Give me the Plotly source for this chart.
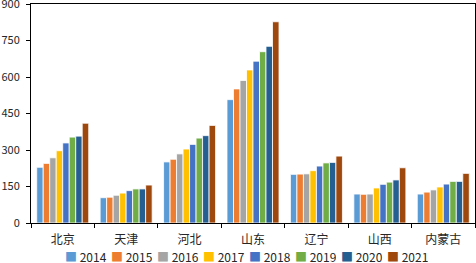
import plotly.graph_objects as go

categories = ["北京", "天津", "河北", "山东", "辽宁", "山西", "内蒙古"]
years = ["2014", "2015", "2016", "2017", "2018", "2019", "2020", "2021"]
colors = ["#5B9BD5", "#ED7D31", "#A5A5A5", "#FFC000", "#4472C4", "#70AD47", "#255E91", "#9E480E"]

v2014 = [229, 104, 251, 507, 200, 119, 119]
v2015 = [245, 106, 262, 551, 201, 118, 127]
v2016 = [268, 114, 284, 586, 202, 119, 136]
v2017 = [297, 123, 304, 629, 215, 144, 148]
v2018 = [329, 133, 323, 665, 234, 159, 160]
v2019 = [353, 140, 349, 704, 247, 168, 171]
v2020 = [357, 140, 359, 726, 249, 177, 171]
v2021 = [410, 156, 401, 827, 275, 227, 204]
series = [v2014, v2015, v2016, v2017, v2018, v2019, v2020, v2021]

yticks = [0, 150, 300, 450, 600, 750, 900]

FONT = "Noto Sans CJK SC"
TXT = "#262626"

fig = go.Figure()
for name, vals, col in zip(years, series, colors):
    fig.add_trace(go.Bar(
        x=categories, y=vals, name=name,
        marker=dict(color=col, line=dict(color="white", width=0.8)),
        showlegend=False,
    ))

# legend drawn as annotations
L, R, T, B = 31, 475, 4, 223
for i, (name, col) in enumerate(zip(years, colors)):
    px = 63 + 46 * i
    fig.add_annotation(
        x=(px - L) / (R - L), y=-(256 - B) / (B - T), xref="paper", yref="paper",
        xanchor="left", yanchor="middle", showarrow=False, height=14,
        text=f"<span style='color:{col};font-size:12px'>■</span> {name}",
        font=dict(family=FONT, size=12, color=TXT),
    )

fig.update_layout(
    width=476, height=263,
    margin=dict(l=L, r=476 - R, t=T, b=263 - B),
    paper_bgcolor="white", plot_bgcolor="white",
    barmode="group", bargap=0.18, bargroupgap=0,
    font=dict(family=FONT, size=11, color=TXT),
)
fig.update_xaxes(
    showline=True, linecolor="black", linewidth=1, mirror=True,
    ticks="outside", tickson="boundaries", ticklen=4, tickcolor="black",
    tickfont=dict(family=FONT, size=12, color=TXT),
    ticklabelstandoff=6,
    showgrid=False, automargin=False,
)
fig.update_yaxes(
    range=[0, 900], tickvals=yticks, ticktext=[str(t) for t in yticks],
    showline=True, linecolor="black", linewidth=1, mirror=True,
    showgrid=False, ticks="outside", ticklen=4, tickcolor="black",
    zeroline=False, automargin=False, ticklabeloverflow="allow",
    ticklabelstandoff=4,
    tickfont=dict(family=FONT, size=11, color=TXT),
)

fig.write_html(
    "out.html",
    config={"displayModeBar": False},
    post_script="document.body.style.margin='0';document.body.style.overflow='hidden';",
)
